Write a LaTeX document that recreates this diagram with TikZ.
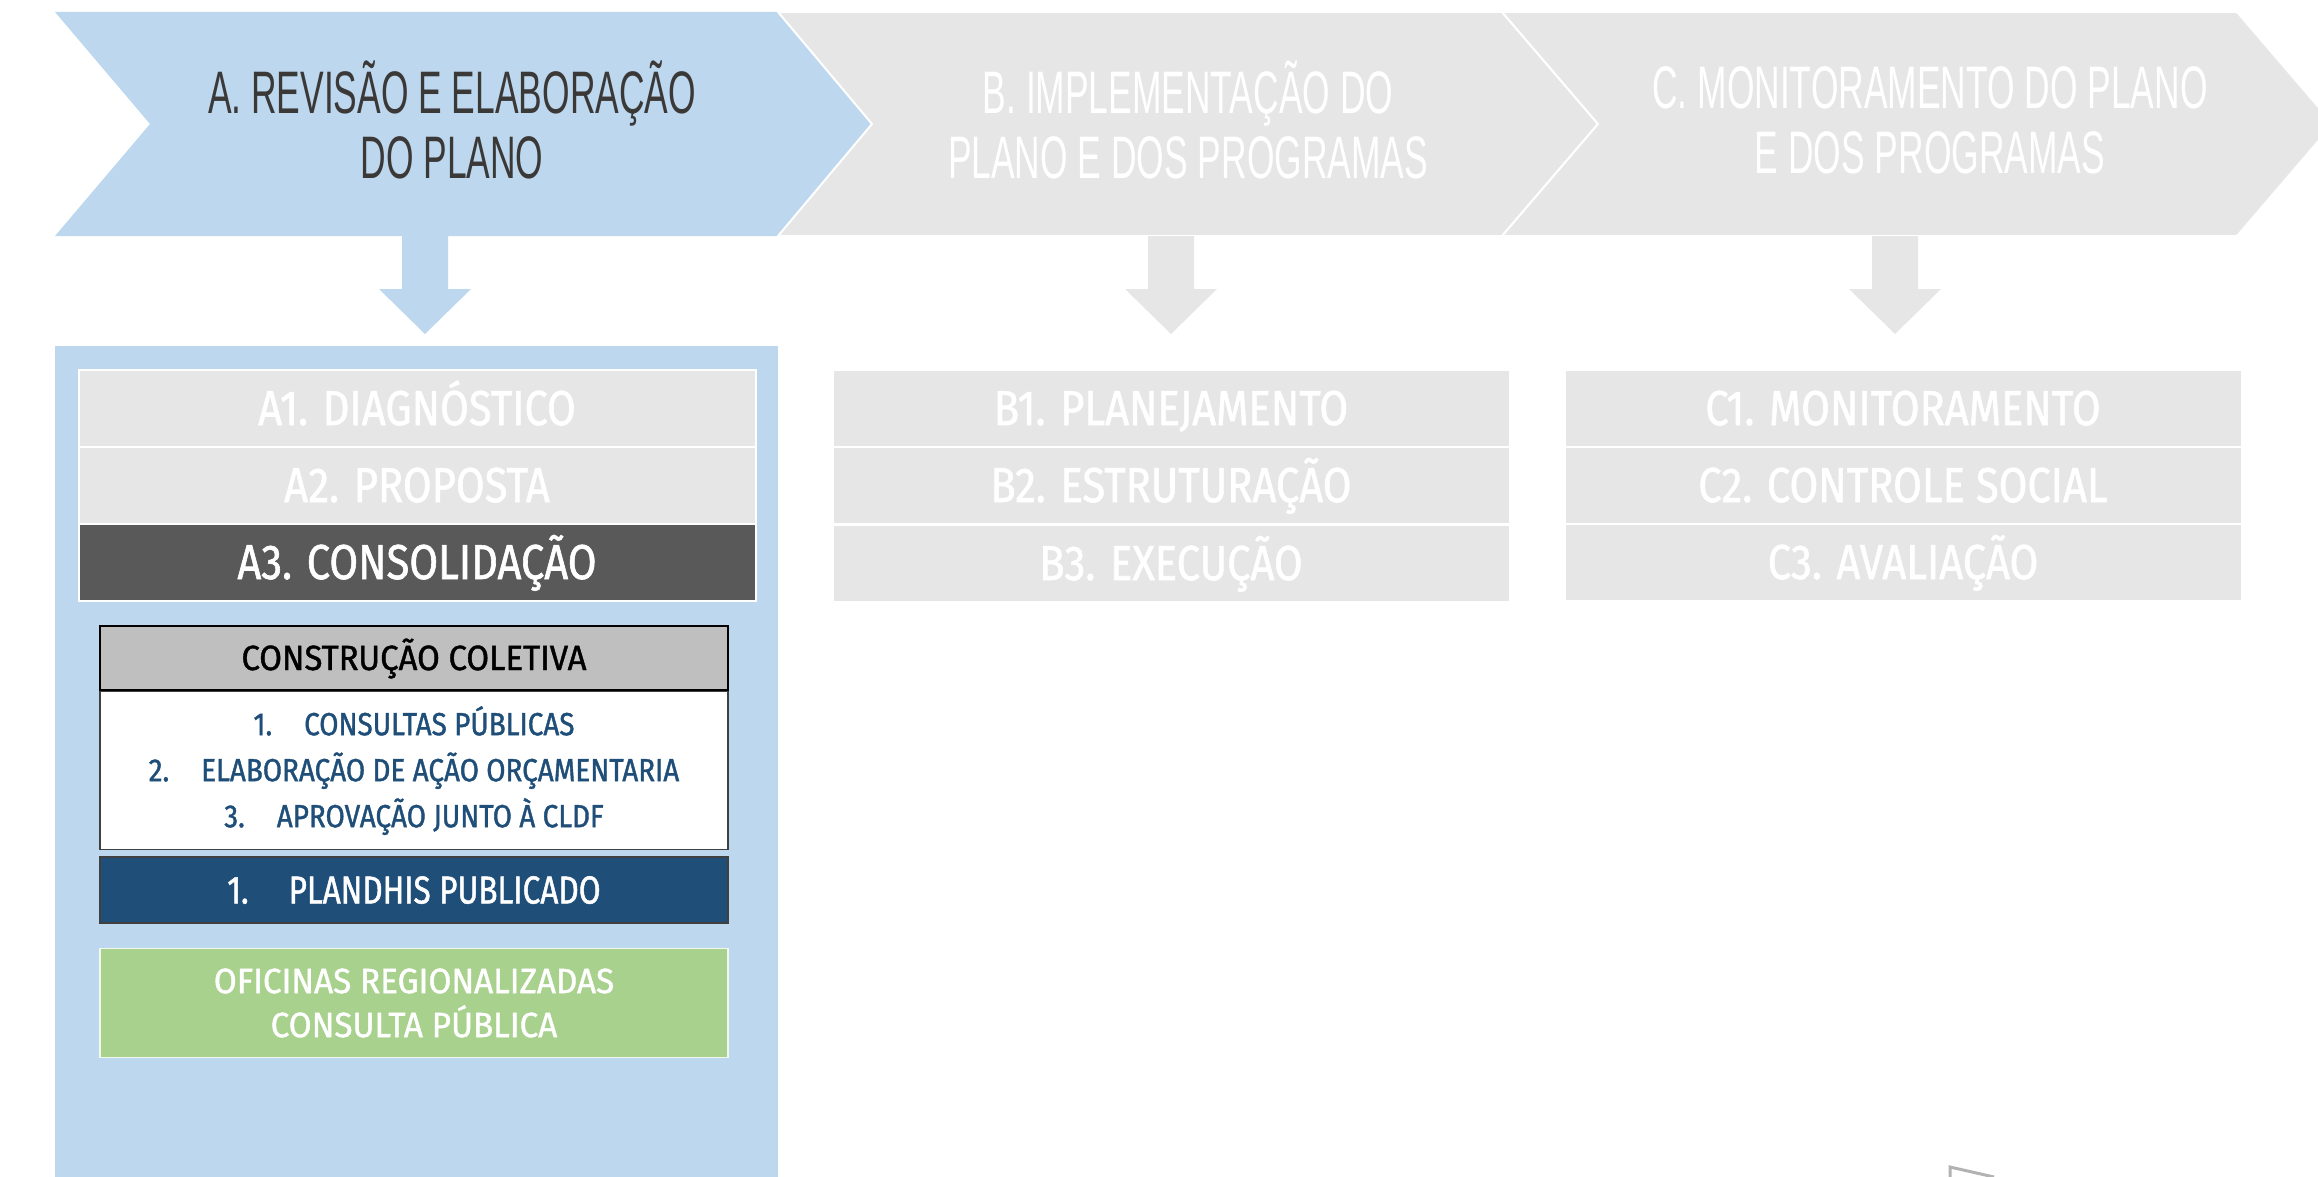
\documentclass[tikz,border=0pt]{standalone}
\usepackage{fontspec}
\usetikzlibrary{positioning}
\setmainfont{Fira Sans}
\newfontfamily\titlefont[FakeStretch=0.59]{Liberation Sans}
\newfontfamily\boxfont[FakeBold=1.2]{Fira Sans}
\definecolor{paleblue}{HTML}{BDD7EE}
\definecolor{palegray}{HTML}{E6E6E6}
\definecolor{darkbox}{HTML}{595959}
\definecolor{headgray}{HTML}{BFBFBF}
\definecolor{navy}{HTML}{1F4E79}
\definecolor{leaf}{HTML}{A9D18E}
\definecolor{titlegray}{HTML}{3B3838}

\begin{document}
\begin{tikzpicture}[x=1pt,y=-1pt,
	stagebox/.style={rectangle, minimum width=677pt, minimum height=77pt, inner sep=0pt,
		fill=palegray, draw=white, line width=2pt, text=white, text height=34pt, text depth=0pt,
		font=\boxfont\addfontfeature{FakeStretch=0.85}\fontsize{49}{58}\selectfont},
	phasetitle/.style={align=center, inner sep=0pt, text=white,
		font=\titlefont\fontsize{60}{65}\selectfont},
	subbox/.style={rectangle, minimum width=628pt, inner sep=0pt, line width=1.5pt}]

\useasboundingbox (0,0) rectangle (2318,1177);

\fill [paleblue] (55,12) -- (778,12) -- (872,124) -- (778,236) -- (55,236) -- (150,124) -- cycle;
\filldraw [fill=palegray, draw=white, line width=2pt] (778,12) -- (1502,12) -- (1598,124) -- (1502,236) -- (778,236) -- (872,124) -- cycle;
\filldraw [fill=palegray, draw=white, line width=2pt] (1502,12) -- (2237,12) -- (2333,124) -- (2237,236) -- (1502,236) -- (1598,124) -- cycle;

\node [phasetitle, text=titlegray] (titA) at (452,120) {A. REVISÃO E ELABORAÇÃO\\DO PLANO};
\node [phasetitle] (titB) at (1188,120) {B. IMPLEMENTAÇÃO DO\\PLANO E DOS PROGRAMAS};
\node [phasetitle] (titC) at (1930,120) {C. MONITORAMENTO DO PLANO\\E DOS PROGRAMAS};


\fill [paleblue] (402,236) -- (448,236) -- (448,289) -- (471,289) -- (425,334) -- (379,289) -- (402,289) -- cycle;
\fill [palegray] (1148,236) -- (1194,236) -- (1194,289) -- (1217,289) -- (1171,334) -- (1125,289) -- (1148,289) -- cycle;
\fill [palegray] (1872,236) -- (1918,236) -- (1918,289) -- (1941,289) -- (1895,334) -- (1849,289) -- (1872,289) -- cycle;

\fill [paleblue] (55,346) rectangle (778,1177);


\node [stagebox] (a1) at (417,408) {A1. DIAGNÓSTICO};
\node [stagebox] (a2) at (417,485) {A2. PROPOSTA};
\node [stagebox, fill=darkbox] (a3) at (417,562) {A3. CONSOLIDAÇÃO};

\node [stagebox] (b1) at (1171,408) {B1. PLANEJAMENTO};
\node [stagebox] (b2) at (1171,485) {B2. ESTRUTURAÇÃO};
\node [stagebox] (b3) at (1171,563) {B3. EXECUÇÃO};

\node [stagebox] (c1) at (1903,408) {C1. MONITORAMENTO};
\node [stagebox] (c2) at (1903,485) {C2. CONTROLE SOCIAL};
\node [stagebox] (c3) at (1903,562) {C3. AVALIAÇÃO};


\node [subbox, minimum height=64pt, fill=headgray, draw=black, text height=24pt, text depth=0pt,
	font=\boxfont\addfontfeature{FakeStretch=0.94}\fontsize{35}{42}\selectfont] (colhead) at (414,658) {CONSTRUÇÃO COLETIVA};
\node [subbox, minimum height=158pt, fill=white, draw=black!75, align=center, text=navy,
	font=\boxfont\addfontfeature{FakeStretch=0.87}\fontsize{32}{46}\selectfont, below=0pt of colhead] (collist)
	{1.\hspace{32pt}CONSULTAS PÚBLICAS\\2.\hspace{32pt}ELABORAÇÃO DE AÇÃO ORÇAMENTARIA\\3.\hspace{32pt}APROVAÇÃO JUNTO À CLDF};
\node [subbox, minimum height=66pt, fill=navy, draw=black!75, text=white, text height=27pt, text depth=0pt,
	font=\boxfont\addfontfeature{FakeStretch=0.81}\fontsize{39}{46}\selectfont] (plandhis) at (414,890) {1.\hspace{40pt}PLANDHIS PUBLICADO};
\node [subbox, minimum height=109pt, fill=leaf, draw=white!85!leaf, align=center, text=white,
	font=\boxfont\addfontfeature{FakeStretch=0.95}\fontsize{35}{44}\selectfont] (oficinas) at (414,1003) {OFICINAS REGIONALIZADAS\\CONSULTA PÚBLICA};


\draw [black!30, line width=3pt] (1950,1180) -- (1950,1167) -- (1994,1177);

\end{tikzpicture}
\end{document}
